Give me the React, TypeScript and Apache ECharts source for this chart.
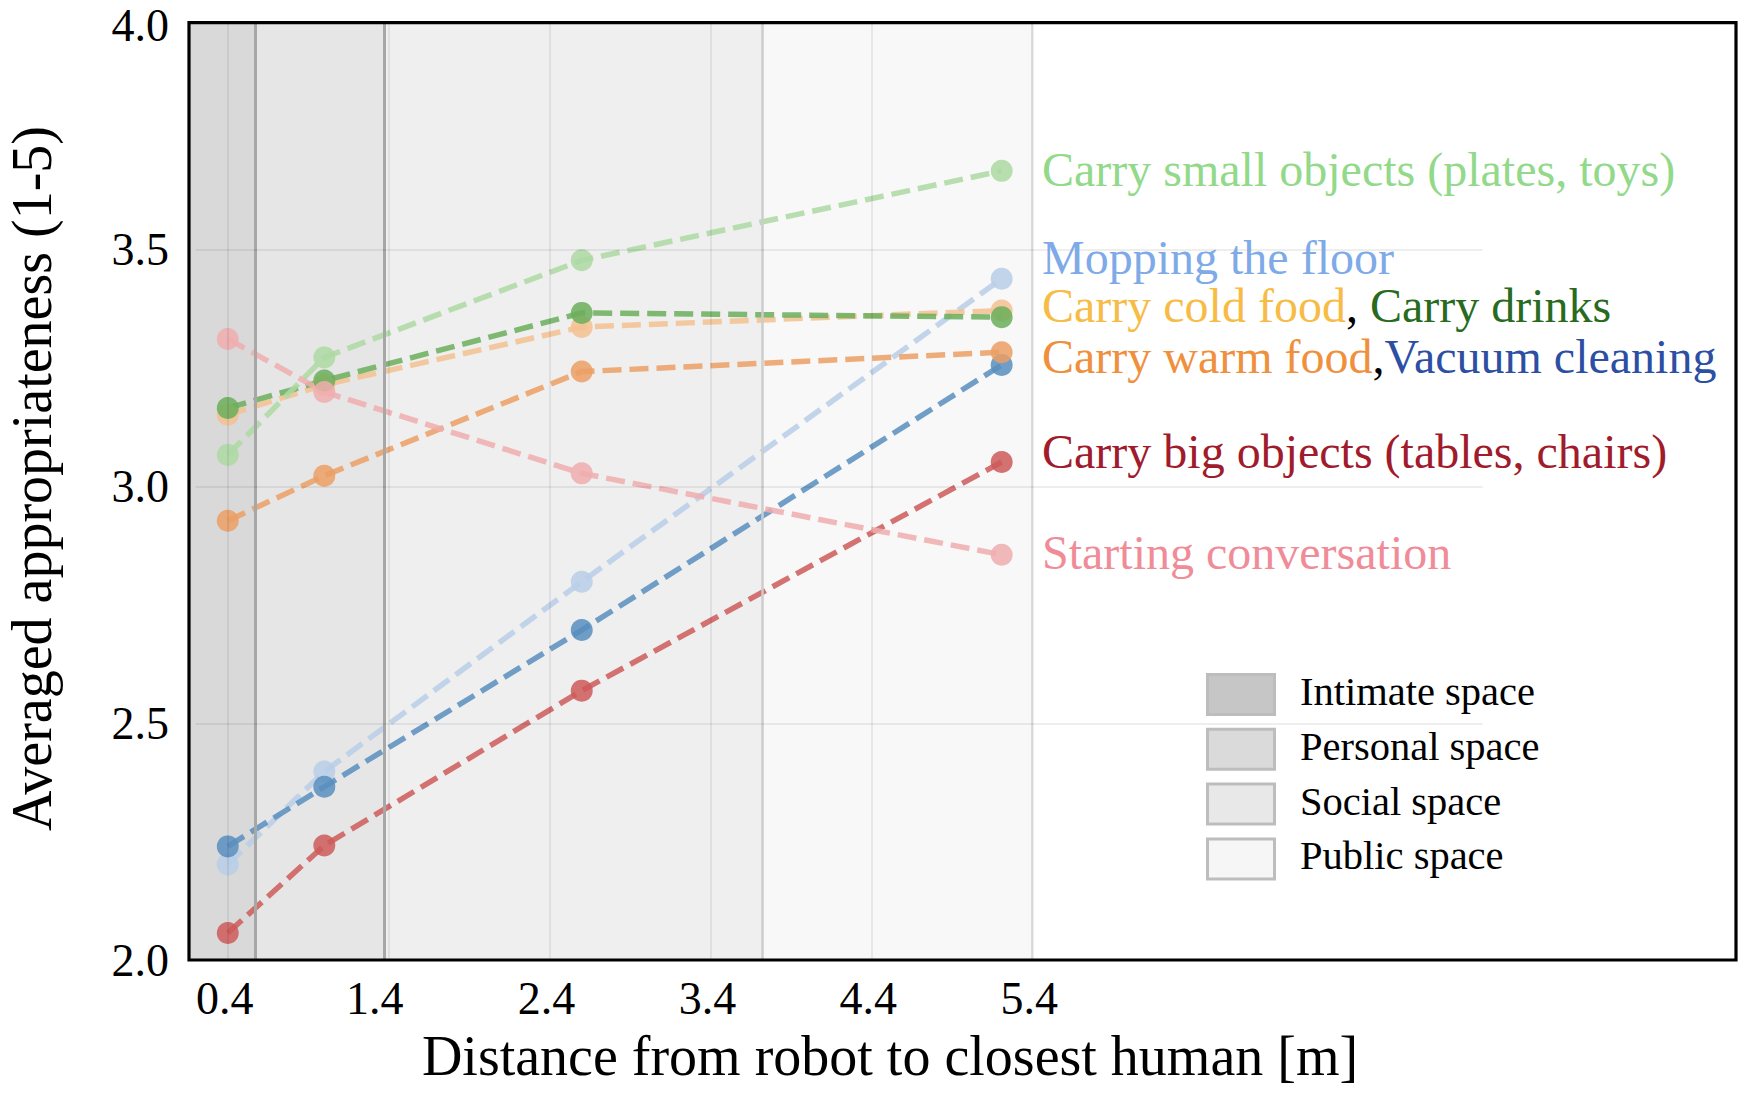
import React, { useEffect, useRef } from "react";
import * as echarts from "echarts";

// ---------- data ----------
const distances = [0.4, 1.0, 2.6, 5.21];

const smallObjects = [3.067, 3.273, 3.478, 3.667];
const mopping = [2.202, 2.398, 2.799, 3.439];
const coldFood = [3.152, 3.215, 3.337, 3.372];
const drinks = [3.166, 3.224, 3.367, 3.358];
const warmFood = [2.928, 3.023, 3.243, 3.284];
const vacuum = [2.24, 2.366, 2.697, 3.257];
const bigObjects = [2.057, 2.242, 2.569, 3.052];
const conversation = [3.312, 3.2, 3.028, 2.856];

const xTickLabels = ["0.4", "1.4", "2.4", "3.4", "4.4", "5.4"];
const xTickValues = [0.4, 1.4, 2.4, 3.4, 4.4, 5.4];
const yTickLabels = ["2.0", "2.5", "3.0", "3.5", "4.0"];
const yGridValues = [2.5, 3.0, 3.5];

const zoneNames = ["Intimate space", "Personal space", "Social space", "Public space"];
const zoneEdges = [0.159, 0.575, 1.37, 3.72, 5.4];

// ---------- styles / layout ----------
const FONT = "Liberation Serif";
const W = 1762;
const H = 1094;
const PLOT = { left: 189, top: 22.7, right: 1736, bottom: 960 };
const X_MIN = 0.159;
const X_MAX = 9.774;
const Y_MIN = 2.0;
const Y_MAX = 3.98;
const LABEL_SHIFT = 0.4;

const zoneFill = ["#d9d9d9", "#e6e6e6", "#efefef", "#f8f8f8"];
const zoneEdgeColor = ["#a7a7a7", "#a7a7a7", "#cdcdcd", "#e8e8e8"];
const zonePatch = ["#c6c6c6", "#dadada", "#e8e8e8", "#f5f6f5"];

type SeriesDef = { name: string; values: number[]; color: string };
// drawing order: first drawn at bottom
const seriesDefs: SeriesDef[] = [
  { name: "Mopping the floor", values: mopping, color: "#b8cee8" },
  { name: "Vacuum cleaning", values: vacuum, color: "#588ebe" },
  { name: "Carry big objects (tables, chairs)", values: bigObjects, color: "#cd5a59" },
  { name: "Carry cold food", values: coldFood, color: "#f3c191" },
  { name: "Carry drinks", values: drinks, color: "#6aae5b" },
  { name: "Carry warm food", values: warmFood, color: "#eb9f64" },
  { name: "Carry small objects (plates, toys)", values: smallObjects, color: "#add9a3" },
  { name: "Starting conversation", values: conversation, color: "#f0adaf" },
];

const labelRows: { parts: { text: string; color: string }[]; y: number }[] = [
  { parts: [{ text: "Carry small objects (plates, toys)", color: "#92d98a" }], y: 169.5 },
  { parts: [{ text: "Mopping the floor", color: "#7eaae8" }], y: 257 },
  {
    parts: [
      { text: "Carry cold food", color: "#f7bc45" },
      { text: ", ", color: "#000000" },
      { text: "Carry drinks", color: "#286b1e" },
    ],
    y: 305.5,
  },
  {
    parts: [
      { text: "Carry warm food", color: "#ef903c" },
      { text: ",", color: "#000000" },
      { text: "Vacuum cleaning", color: "#2d4fa3" },
    ],
    y: 356,
  },
  { parts: [{ text: "Carry big objects (tables, chairs)", color: "#a01b2b" }], y: 451 },
  { parts: [{ text: "Starting conversation", color: "#f08c98" }], y: 552 },
];

function buildOption() {
  const dataSeries = seriesDefs.map((s) => ({
    type: "line",
    name: s.name,
    xAxisIndex: 0,
    yAxisIndex: 0,
    z: 3,
    data: distances.map((d, i) => [d, s.values[i]]),
    symbol: "circle",
    symbolSize: 22,
    showSymbol: true,
    itemStyle: { color: s.color, opacity: 0.85 },
    lineStyle: { color: s.color, width: 5.5, type: [19, 8], opacity: 0.85 },
    emphasis: { disabled: true },
    silent: true,
  }));

  const zoneSeries = {
    type: "line",
    name: "zones",
    xAxisIndex: 0,
    yAxisIndex: 0,
    z: 1,
    data: [],
    silent: true,
    markArea: {
      silent: true,
      data: zoneNames.map((_, i) => [
        { xAxis: zoneEdges[i], itemStyle: { color: zoneFill[i] } },
        { xAxis: zoneEdges[i + 1] },
      ]),
    },
    markLine: {
      silent: true,
      symbol: "none",
      label: { show: false },
      data: zoneEdges.slice(1).map((e, i) => ({
        xAxis: e,
        lineStyle: { color: zoneEdgeColor[i], width: i < 2 ? 3 : 2.5, type: "solid" },
      })),
    },
  };

  const gridSeries = {
    type: "line",
    name: "grid",
    xAxisIndex: 0,
    yAxisIndex: 0,
    z: 2,
    data: [],
    silent: true,
    markLine: {
      silent: true,
      symbol: "none",
      label: { show: false },
      lineStyle: { color: "rgba(0,0,0,0.065)", width: 2, type: "solid" },
      data: [
        ...xTickValues.map((v) => ({ xAxis: v })),
        ...yGridValues.map((v) => [{ coord: [0.2, v] }, { coord: [8.2, v] }]),
      ],
    },
  };

  const legendTop = 673;
  const legendStep = 54.8;
  const legendEls: any[] = [];
  zoneNames.forEach((n, i) => {
    const top = legendTop + i * legendStep;
    legendEls.push({
      type: "rect",
      shape: { x: 1207.5, y: top + 1.5, width: 67, height: 40 },
      style: { fill: zonePatch[i], stroke: "#bdbdbd", lineWidth: 3 },
      z: 50,
    });
    legendEls.push({
      type: "text",
      x: 1300,
      y: top + 21.5 - 3,
      style: {
        text: n,
        fill: "#000",
        font: `40.5px "${FONT}"`,
        textAlign: "left",
        textVerticalAlign: "middle",
      },
      z: 50,
    });
  });

  const labelEls = labelRows.map((row) => {
    const rich: any = {};
    let text = "";
    row.parts.forEach((p, k) => {
      rich["p" + k] = { fill: p.color, fontSize: 48, fontFamily: FONT };
      text += `{p${k}|${p.text}}`;
    });
    return {
      type: "text",
      x: 1042,
      y: row.y,
      style: {
        text,
        rich,
        font: `48px "${FONT}"`,
        textAlign: "left",
        textVerticalAlign: "middle",
      },
      z: 50,
    };
  });

  return {
    animation: false,
    backgroundColor: "#ffffff",
    grid: {
      left: PLOT.left,
      top: PLOT.top,
      right: W - PLOT.right,
      bottom: H - PLOT.bottom,
      containLabel: false,
      show: false,
    },
    xAxis: [
      {
        type: "value",
        min: X_MIN,
        max: X_MAX,
        show: false,
        position: "top",
      },
      {
        type: "value",
        position: "bottom",
        min: X_MIN - LABEL_SHIFT,
        max: X_MAX - LABEL_SHIFT,
        splitNumber: 10,
        minInterval: 1,
        maxInterval: 1,
        axisLine: { show: false },
        axisTick: { show: false },
        splitLine: { show: false },
        axisLabel: {
          margin: 15,
          fontSize: 46,
          fontFamily: FONT,
          color: "#000",
          hideOverlap: false,
          padding: [0, 6, 0, 0],
          rich: {
            shifted: { fontSize: 46, fontFamily: FONT, color: "#000", padding: [0, 22, 0, 0] },
          },
          formatter: (v: number) => {
            const idx = Math.round(v);
            if (Math.abs(v - idx) > 1e-6) return "";
            if (idx < 0 || idx >= xTickLabels.length) return "";
            return idx === 1 ? `{shifted|${xTickLabels[idx]}}` : xTickLabels[idx];
          },
        },
      },
    ],
    yAxis: {
      type: "value",
      min: Y_MIN,
      max: Y_MAX,
      interval: 0.5,
      axisLine: { show: false },
      axisTick: { show: false },
      splitLine: { show: false },
      axisLabel: {
        margin: 20,
        fontSize: 46,
        fontFamily: FONT,
        color: "#000",
        showMaxLabel: true,
        rich: {
          top: { fontSize: 46, fontFamily: FONT, color: "#000", padding: [6, 0, 0, 0] },
        },
        formatter: (v: number) => {
          const idx = Math.round((v - Y_MIN) / 0.5);
          const t = yTickLabels[idx] ?? "";
          return idx === yTickLabels.length - 1 ? `{top|${t}}` : t;
        },
      },
    },
    series: [zoneSeries, gridSeries, ...dataSeries],
    graphic: [
      {
        type: "rect",
        shape: {
          x: PLOT.left,
          y: PLOT.top,
          width: PLOT.right - PLOT.left,
          height: PLOT.bottom - PLOT.top,
        },
        style: { fill: "none", stroke: "#000", lineWidth: 3.2 },
        z: 100,
        silent: true,
      },
      {
        type: "text",
        x: 890,
        y: 1056,
        style: {
          text: "Distance from robot to closest human [m]",
          fill: "#000",
          font: `56px "${FONT}"`,
          textAlign: "center",
          textVerticalAlign: "middle",
        },
      },
      {
        type: "text",
        x: 32,
        y: 478.5,
        rotation: Math.PI / 2,
        style: {
          text: "Averaged appropriateness (1-5)",
          fill: "#000",
          font: `56px "${FONT}"`,
          textAlign: "center",
          textVerticalAlign: "middle",
        },
      },
      ...labelEls,
      ...legendEls,
    ],
  };
}

export default function App() {
  const ref = useRef<HTMLDivElement>(null);
  useEffect(() => {
    if (!ref.current) return;
    const chart = echarts.init(ref.current, undefined, { renderer: "svg" });
    chart.setOption(buildOption() as any);
    return () => chart.dispose();
  }, []);
  return (
    <div
      ref={ref}
      style={{ position: "fixed", left: 0, top: 0, width: W, height: H, background: "#fff" }}
    />
  );
}
